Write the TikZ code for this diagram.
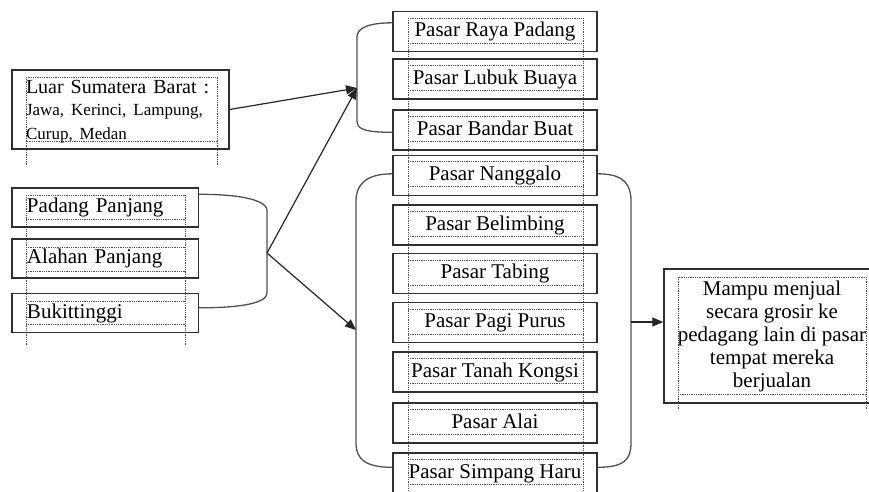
\documentclass[tikz,border=0pt]{standalone}
\usepackage{fontspec}
\setmainfont{Liberation Serif}
\usetikzlibrary{arrows.meta}
\definecolor{boxline}{HTML}{303030}
\definecolor{conn}{HTML}{505050}
\definecolor{dotc}{HTML}{555555}
\begin{document}
\begin{tikzpicture}[x=1pt,y=-1pt,
  box/.style={draw=boxline, line width=1.4pt, rectangle, inner sep=0pt,
    minimum width=204pt, minimum height=40pt, text height=15pt, text depth=5pt,
    font=\fontsize{21}{24}\selectfont},
  lbox/.style={box, minimum width=186.5pt, minimum height=39pt, text width=156.5pt,
    align=left, inner xsep=15pt},
  dotline/.style={draw=dotc, line width=0.7pt, dash pattern=on 0.9pt off 0.9pt},
  conn/.style={draw=conn, line width=1.3pt},
  arr/.style={draw=black!85, line width=1.2pt, -{Triangle[length=11pt,width=9pt]}}]
\useasboundingbox (0,0) rectangle (869,491);

% dotted text frames
\draw[dotline] (26,77) rectangle (217,141);
\draw[dotline] (26,141) -- (26,165) (217,141) -- (217,165);
\draw[dotline] (26,195) -- (26,345) (185,195) -- (185,345);
\foreach \t in {195,219,247,271,301,324} \draw[dotline] (26,\t) -- (185,\t);
\draw[dotline] (408,18) -- (408,491) (583,18) -- (583,491);
\foreach \t in {12,59,110,155,205,254,303,352,403,453}
  \draw[dotline] (408,\t+6.5) -- (583,\t+6.5) (408,\t+31) -- (583,\t+31);
\draw[dotline] (678,277) rectangle (866,394);
\draw[dotline] (678,394) -- (678,410) (866,394) -- (866,410);

% left boxes
\node[box, minimum width=217pt, minimum height=79pt, text width=189pt, align=left,
  inner xsep=14pt, text height=, text depth=] (luar) at (120.5,109.5)
  {{\fontsize{20}{23}\selectfont\rule{0pt}{18pt}Luar Sumatera Barat :}\\[2pt]
   {\fontsize{17}{20}\selectfont Jawa, Kerinci, Lampung,\\ Curup, Medan}};
\node[lbox] (padang) at (105.25,207.5) {Padang Panjang};
\node[lbox] (alahan) at (105.25,258.5) {Alahan Panjang};
\node[lbox] (bukit) at (105.25,313) {Bukittinggi};

% market boxes
\node[box] (raya) at (495,31.5) {Pasar Raya Padang};
\node[box] (lubuk) at (495,79) {Pasar Lubuk Buaya};
\node[box] (bandar) at (495,130) {Pasar Bandar Buat};
\node[box] (nanggalo) at (495,175.5) {Pasar Nanggalo};
\node[box] (belimbing) at (495,225) {Pasar Belimbing};
\node[box] (tabing) at (495,273.5) {Pasar Tabing};
\node[box] (pagi) at (495,322.5) {Pasar Pagi Purus};
\node[box] (tanah) at (495,372) {Pasar Tanah Kongsi};
\node[box] (alai) at (495,423) {Pasar Alai};
\node[box] (simpang) at (495,473) {Pasar Simpang Haru};

% result box
\node[box, minimum width=216pt, minimum height=134pt, align=center,
  text height=, text depth=, font=\fontsize{21}{23}\selectfont] (mampu) at (772,336)
  {Mampu menjual\\ secara grosir ke\\ pedagang lain di pasar\\ tempat mereka\\ berjualan};

% junction points
\coordinate (lbtip) at (267,253);
\coordinate (topbr) at (357,88);
\coordinate (lowbr) at (356,330);
\coordinate (rbmid) at (631,322);

% brackets
\draw[conn] ([yshift=-7pt]padang.north east) .. controls +(55,0) and +(0,-6) .. (267,210)
  -- (267,293) .. controls +(0,7) and +(55,0) .. ([yshift=-15pt]bukit.north east);
\draw[conn] ([yshift=-12pt]raya.north west) .. controls +(-28,0) and +(0,-7) .. (357,37)
  -- (357,121) .. controls +(0,8) and +(-28,0) .. ([yshift=-23pt]bandar.north west);
\draw[conn] ([yshift=-19pt]nanggalo.north west) .. controls +(-27,0) and +(0,-16) .. (356,201)
  -- (356,443) .. controls +(0,16) and +(-27,0) .. ([yshift=-15pt]simpang.north west);
\draw[conn] ([yshift=-19pt]nanggalo.north east) .. controls +(27,0) and +(0,-16) .. (631,201)
  -- (631,443) .. controls +(0,16) and +(27,0) .. ([yshift=-15pt]simpang.north east);

% arrows
\draw[arr] (luar.east) -- (topbr);
\draw[arr] (lbtip) -- (topbr);
\draw[arr] (lbtip) -- (lowbr);
\draw[arr] (rbmid) -- (rbmid -| mampu.west);
\end{tikzpicture}
\end{document}
